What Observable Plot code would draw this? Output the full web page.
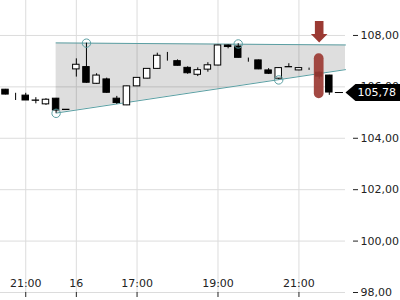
<!DOCTYPE html>
<html>
<head>
<meta charset="utf-8">
<script src="https://cdn.jsdelivr.net/npm/d3@7"></script>
<script src="https://cdn.jsdelivr.net/npm/@observablehq/plot@0.6"></script>
<style>
  html, body { margin: 0; padding: 0; background: #fff; }
  #chart svg { display: block; }
</style>
</head>
<body>
<div id="chart"></div>
<script>
// 15-minute candles, index 0..32
const opens  = [105.89,105.70,105.66,105.47,105.32,105.54,105.11,106.68,106.77,106.12,106.29,105.54,105.28,106.02,106.32,106.70,107.16,107.00,106.74,106.47,106.67,106.83,107.61,107.57,107.05,107.03,106.64,106.32,106.77,106.64,106.68,106.55,106.44];
const highs  = [105.90,105.75,105.75,105.58,105.54,105.55,105.12,107.09,107.70,106.51,106.34,105.63,106.03,106.36,106.71,107.31,107.34,107.05,106.78,106.74,106.94,107.62,107.63,107.68,107.12,107.04,106.71,106.74,106.90,106.74,106.73,106.58,106.45];
const lows   = [105.69,105.47,105.47,105.34,105.28,104.97,105.09,106.38,106.14,106.10,105.75,105.32,105.27,106.01,106.31,106.69,107.00,106.81,106.49,106.40,106.57,106.82,107.48,107.12,106.96,106.67,106.48,106.28,106.76,106.63,106.64,106.30,105.67];
const closes = [105.70,105.70,105.47,105.46,105.50,105.08,105.10,106.86,106.16,106.44,105.77,105.37,106.02,106.35,106.70,107.21,107.16,106.82,106.53,106.65,106.84,107.61,107.55,107.13,107.05,106.68,106.51,106.73,106.76,106.73,106.68,106.40,105.78];

const tickIdx    = [2, 7, 13, 21, 29];
const tickLabels = ["21:00", "16", "17:00", "19:00", "21:00"];
const yTicks     = [98, 100, 102, 104, 106, 108];

// triangle pattern
const patternX     = [5, 33.6];
const patternUpper = [107.71, 107.63];
const patternLower = [104.98, 106.67];
const pivotIdx     = [5, 8, 23, 27];
const pivotVal     = [104.97, 107.70, 107.67, 106.27];

// breakout signal
const signalIdx  = [31];
const signalLow  = [105.54];
const signalHigh = [107.29];

const lastPrice = 105.78;
const lastIdx = 32;

const candles = opens.map((o, i) => ({i, o, h: highs[i], l: lows[i], c: closes[i], up: closes[i] >= o}));
const pattern = patternX.map((x, k) => ({x, u: patternUpper[k], l: patternLower[k]}));
const pivots = pivotIdx.map((i, k) => ({i, v: pivotVal[k]}));
const signals = signalIdx.map((i, k) => ({i, lo: signalLow[k], hi: signalHigh[k]}));
const last = [{i: lastIdx, v: lastPrice}];

const fmt = d => d.toFixed(2).replace(".", ",");
const teal = "#5b9fa3";
const red = "#9b3a33";

const arrowSymbol = {draw(ctx) {
  ctx.moveTo(-4.3, -10.8); ctx.lineTo(4.3, -10.8); ctx.lineTo(4.3, 2.4);
  ctx.lineTo(8.3, 2.4); ctx.lineTo(0, 10.8); ctx.lineTo(-8.3, 2.4);
  ctx.lineTo(-4.3, 2.4); ctx.closePath();
}};
const tagSymbol = {draw(ctx) {
  ctx.moveTo(0, 0); ctx.lineTo(10, -8.5); ctx.lineTo(60, -8.5);
  ctx.lineTo(60, 8.5); ctx.lineTo(10, 8.5); ctx.closePath();
}};

const chart = Plot.plot({
  width: 400, height: 300,
  marginLeft: 0, marginRight: 55, marginTop: 0, marginBottom: 8,
  style: {fontFamily: "'DejaVu Sans', sans-serif", fontSize: "11px", color: "#222", background: "#fff"},
  x: {domain: [-0.494, 33.6], axis: null},
  y: {domain: [98, 109.36], axis: null},
  marks: [
    Plot.gridY(yTicks, {stroke: "#dcdcdc", strokeOpacity: 1}),
    Plot.gridX(tickIdx, {stroke: "#dcdcdc", strokeOpacity: 1}),
    Plot.areaY(pattern, {x: "x", y1: "l", y2: "u", fill: "#000", fillOpacity: 0.13}),
    Plot.line(pattern, {x: "x", y: "u", stroke: teal, strokeWidth: 1}),
    Plot.line(pattern, {x: "x", y: "l", stroke: teal, strokeWidth: 1}),
    Plot.ruleX(candles, {x: "i", y1: "l", y2: "h", stroke: "#000", strokeWidth: 1}),
    Plot.rect(candles, {
      x1: d => d.i - 0.32, x2: d => d.i + 0.32,
      y1: "o", y2: "c",
      fill: d => d.up ? "#fff" : "#000",
      stroke: "#000", strokeWidth: 1
    }),
    Plot.dot(pivots, {x: "i", y: "v", r: 4.2, stroke: teal, fill: "none", strokeWidth: 1}),
    Plot.rect(signals, {x1: d => d.i - 0.48, x2: d => d.i + 0.48, y1: "lo", y2: "hi", rx: 5, fill: red, fillOpacity: 0.92}),
    Plot.dot(signals, {x: "i", y: "hi", dy: -22, symbol: arrowSymbol, r: 8, fill: red, stroke: "none"}),
    Plot.axisX({anchor: "bottom", ticks: tickIdx, tickSize: 5, tickFormat: () => "", stroke: "#222"}),
    Plot.text(tickIdx, {x: d => d, text: (d, k) => tickLabels[k], frameAnchor: "bottom", dy: -6, fill: "#222", fontSize: 11}),
    Plot.axisY({anchor: "right", ticks: yTicks, tickSize: 5, tickPadding: 3, dx: 7, tickFormat: fmt, stroke: "#222", fill: "#222"}),
    Plot.ruleY(last, {y: "v", x1: d => d.i + 0.6, x2: d => d.i + 1.4, stroke: "#000"}),
    Plot.dot(last, {y: "v", frameAnchor: "right", symbol: tagSymbol, r: 8, fill: "#000", stroke: "none"}),
    Plot.text(last, {y: "v", text: d => fmt(d.v), frameAnchor: "right", dx: 12, textAnchor: "start", fill: "#fff", fontSize: 11})
  ]
});
document.getElementById("chart").appendChild(chart);
</script>
</body>
</html>
